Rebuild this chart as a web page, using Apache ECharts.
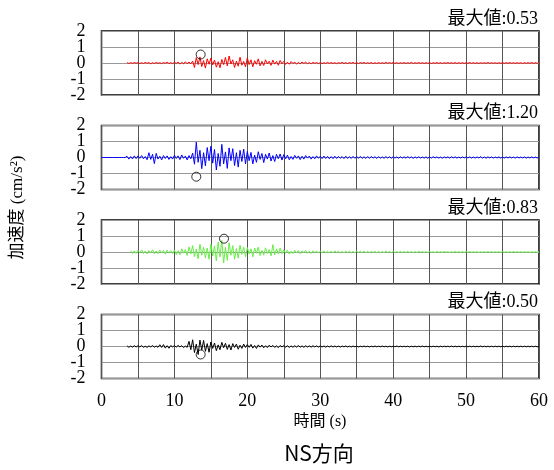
<!DOCTYPE html>
<html>
<head>
<meta charset="utf-8">
<script src="https://cdn.jsdelivr.net/npm/echarts@6/dist/echarts.min.js"></script>
<style>html,body{margin:0;padding:0;background:#fff}#c{width:554px;height:470px}</style>
</head>
<body>
<div id="c"></div>
<script>
// sample interval of the records (s)
const STEP = 0.25;
const N = null;
const redNS = [
N,N,N,N,N,N,N,N,N,N,N,N,N,N,.02,-.03,.02,-.02,.03,-.02,
.03,-.04,.02,-.03,.04,-.02,.03,-.05,.02,-.03,.04,-.03,.02,-.04,.03,-.02,.05,-.03,.02,-.04,
.05,-.03,.06,-.07,.04,-.05,.08,-.04,.06,-.05,.12,-.28,.34,-.1,.38,-.22,.15,-.32,.26,-.08,
.3,-.12,.18,-.26,.08,-.3,.22,-.1,.35,-.18,.44,-.06,.2,-.28,.12,-.2,.36,-.14,.1,-.24,
.32,-.1,.2,-.24,.14,-.08,.26,-.18,.1,-.16,.2,-.06,.12,-.15,.18,-.07,.1,-.14,.16,-.05,
.1,-.09,.05,-.08,.09,-.03,.06,-.07,.04,-.05,.06,-.02,.05,-.04,.03,-.05,.04,-.02,.03,-.04,
.03,-.04,.02,-.03,.04,-.02,.03,-.03,.02,-.04,.03,-.02,.04,-.03,.02,-.03,.03,-.02,.04,-.03,
.02,-.03,.03,-.02,.04,-.03,.02,-.02,.03,-.04,.02,-.03,.03,-.02,.02,-.03,.04,-.02,.03,-.02,
.03,-.02,.02,-.03,.02,-.02,.03,-.03,.02,-.02,.04,-.03,.02,-.02,.03,-.02,.02,-.03,.02,-.02,
.02,-.03,.02,-.02,.03,-.02,.02,-.03,.02,-.02,.03,-.02,.02,-.02,.03,-.03,.02,-.02,.02,-.03,
.02,-.02,.03,-.02,.02,-.02,.02,-.03,.02,-.02,.02,-.02,.03,-.02,.02,-.02,.02,-.03,.02,-.02,
.02,-.02,.02,-.02,.03,-.02,.02,-.02,.02,-.02,.02,-.03,.02,-.02,.02,-.02,.03,-.02,.02,-.02,
.01];
const blueNS = [
0,0,0,0,0,0,0,0,0,0,0,0,0,0,.08,-.1,.06,-.09,.1,-.07,
.1,-.05,.12,-.08,.06,-.14,.3,-.12,.2,-.38,.26,-.1,.08,-.15,.12,-.06,.1,-.12,.05,-.1,
.14,-.06,.1,-.13,.16,-.05,.09,-.15,.12,-.08,.28,-.42,.96,-.3,.45,-.7,.3,-.52,.62,-.2,
.7,-.35,.5,-.78,.25,-.55,.82,-.4,.35,-.68,.6,-.2,.55,-.5,.3,-.6,.45,-.25,.52,-.4,
.38,-.2,.32,-.4,.15,-.3,.36,-.12,.25,-.32,.2,-.1,.28,-.22,.12,-.25,.2,-.08,.22,-.16,
.18,-.08,.15,-.14,.06,-.12,.13,-.05,.1,-.13,.08,-.1,.12,-.04,.09,-.1,.06,-.08,.1,-.05,
.08,-.07,.09,-.06,.07,-.08,.06,-.07,.08,-.06,.07,-.05,.06,-.07,.08,-.06,.05,-.06,.07,-.05,
.06,-.05,.07,-.06,.05,-.06,.06,-.05,.07,-.04,.05,-.06,.06,-.05,.04,-.05,.06,-.04,.05,-.05,
.05,-.04,.04,-.05,.05,-.04,.04,-.04,.05,-.03,.04,-.05,.04,-.04,.05,-.04,.03,-.04,.04,-.05,
.04,-.04,.05,-.03,.04,-.04,.03,-.05,.04,-.03,.04,-.04,.05,-.03,.04,-.04,.03,-.04,.04,-.03,
.04,-.03,.04,-.04,.03,-.04,.04,-.03,.05,-.04,.03,-.04,.04,-.03,.04,-.04,.03,-.03,.04,-.04,
.03,-.04,.04,-.03,.04,-.03,.03,-.04,.04,-.03,.03,-.03,.04,-.04,.03,-.03,.04,-.03,.03,-.03,
.02];
const greenNS = [
N,N,N,N,N,N,N,N,N,N,N,N,N,N,N,N,.08,-.1,.07,-.09,
.1,-.05,.13,-.09,.06,-.12,.1,-.04,.14,-.1,.07,-.11,.12,-.06,.09,-.13,.11,-.05,.08,-.1,
.12,-.16,.08,-.18,.2,-.07,.15,-.22,.32,-.12,.4,-.3,.18,-.42,.48,-.2,.3,-.38,.25,-.45,
.5,-.25,.38,-.55,.62,-.3,.72,-.68,.3,-.52,.58,-.2,.4,-.45,.22,-.38,.42,-.15,.3,-.3,
.28,-.12,.2,-.3,.25,-.08,.3,-.22,.1,-.2,.26,-.1,.15,-.24,.46,-.18,.2,-.12,.24,-.1,
.14,-.08,.12,-.13,.05,-.1,.11,-.06,.09,-.11,.07,-.04,.1,-.08,.05,-.09,.08,-.03,.06,-.07,
.06,-.05,.07,-.06,.05,-.06,.06,-.05,.07,-.04,.05,-.06,.04,-.05,.06,-.04,.05,-.05,.04,-.05,
.05,-.04,.06,-.04,.05,-.05,.04,-.04,.05,-.03,.04,-.05,.04,-.04,.03,-.04,.05,-.03,.04,-.04,
.04,-.03,.03,-.04,.04,-.03,.03,-.03,.04,-.03,.03,-.04,.03,-.03,.04,-.02,.03,-.03,.02,-.03,
.03,-.02,.02,-.03,.03,-.02,.02,-.02,.03,-.02,.02,-.03,.02,-.02,.03,-.02,.02,-.02,.02,-.02,
.02,-.02,.03,-.02,.02,-.02,.02,-.03,.02,-.02,.02,-.02,.03,-.02,.02,-.02,.02,-.02,.02,-.02,
.02,-.02,.02,-.02,.02,-.02,.03,-.02,.02,-.02,.02,-.02,.02,-.02,.02,-.03,.02,-.02,.02,-.02,
.01];
const blackNS = [
N,N,N,N,N,N,N,N,N,N,N,N,N,N,.04,-.05,.03,-.04,.05,-.03,
.05,-.03,.06,-.05,.02,-.06,.04,-.03,.06,-.04,.03,-.05,.11,-.06,.12,-.1,.05,-.11,.06,-.03,
.06,-.04,.07,-.03,.05,-.07,.03,-.05,.32,-.2,.42,-.38,.15,-.5,.4,-.22,.38,-.3,.18,-.36,
.28,-.12,.22,-.26,.1,-.2,.26,-.08,.2,-.18,.12,-.22,.18,-.06,.15,-.17,.08,-.12,.15,-.06,
.12,-.05,.13,-.1,.06,-.12,.1,-.04,.09,-.08,.05,-.07,.08,-.03,.07,-.06,.04,-.07,.06,-.03,
.06,-.05,.05,-.06,.04,-.05,.05,-.04,.06,-.04,.04,-.05,.05,-.04,.04,-.04,.05,-.03,.04,-.04,
.04,-.03,.03,-.04,.03,-.03,.04,-.03,.03,-.03,.03,-.04,.03,-.02,.03,-.03,.02,-.03,.03,-.02,
.02,-.03,.02,-.02,.03,-.02,.02,-.03,.02,-.02,.03,-.02,.02,-.02,.03,-.02,.02,-.03,.02,-.02,
.02,-.02,.03,-.02,.02,-.02,.02,-.02,.02,-.03,.02,-.02,.02,-.02,.02,-.02,.03,-.02,.02,-.02,
.02,-.02,.02,-.02,.02,-.03,.02,-.02,.02,-.02,.02,-.02,.03,-.02,.02,-.02,.02,-.02,.02,-.02,
.02,-.02,.02,-.02,.02,-.02,.02,-.02,.03,-.02,.02,-.02,.02,-.02,.02,-.02,.02,-.02,.02,-.02,
.02,-.02,.02,-.02,.02,-.02,.02,-.02,.02,-.02,.02,-.02,.02,-.02,.02,-.02,.02,-.02,.02,-.02,
.01];
const peakTimes = [13.6, 13.0, 16.8, 13.6];
const peakValues = [0.53, -1.20, 0.83, -0.50];
const maxLabels = ['最大値:0.53', '最大値:1.20', '最大値:0.83', '最大値:0.50'];
const xTicks = [0, 10, 20, 30, 40, 50, 60];
const yTicksEven = [-2, 0, 2];
const yTicksOdd = [-1, 1];
const xName = '時間 (s)';
const yName = '加速度 (cm/s²)';
const titleText = 'NS方向';

const records = [redNS, blueNS, greenNS, blackNS];
const colors = ['#ff0000', '#0000ff', '#66ee44', '#000000'];
const tops = [31, 125.5, 220, 314.5];
const H = 64, L = 101.5, R = 15;
const SERIF = '"Liberation Serif", "Noto Sans CJK JP", serif';
const YMIN = -2, YMAX = 2;

const grids = [], xAxes = [], yAxes = [], series = [], graphics = [];
function yAxisDef(i, labels, showSplit) {
  return {
    type: 'value', gridIndex: i, position: 'left', offset: 0, min: YMIN, max: YMAX, interval: 1,
    axisLine: {show: false}, axisTick: {show: false},
    axisLabel: {margin: 16, color: '#000', fontFamily: SERIF, fontSize: 18,
      customValues: labels, showMinLabel: true, showMaxLabel: true, hideOverlap: false},
    splitLine: {show: showSplit, lineStyle: {color: '#999', width: 1}}
  };
}
records.forEach((rec, i) => {
  grids.push({left: L, right: R, top: tops[i], height: H, show: true, borderColor: '#000', borderWidth: 1.5, backgroundColor: 'transparent'});
  const last = i === records.length - 1;
  xAxes.push({
    type: 'value', gridIndex: i, min: xTicks[0], max: xTicks[xTicks.length - 1], interval: 5,
    axisLine: {show: false}, axisTick: {show: false},
    axisLabel: {show: last, margin: 14, color: '#000', fontFamily: SERIF, fontSize: 18,
      showMinLabel: true, showMaxLabel: true,
      formatter: v => (xTicks.indexOf(v) >= 0 ? String(v) : '')},
    splitLine: {show: true, lineStyle: {color: '#555', width: 1}}
  });
  yAxes.push(yAxisDef(i, yTicksEven, true));
  yAxes.push(yAxisDef(i, yTicksOdd, false));
  series.push({
    type: 'custom', xAxisIndex: i, yAxisIndex: 2 * i, coordinateSystem: 'cartesian2d',
    animation: false, silent: true, clip: true, z: 10,
    data: rec.map((v, k) => [k * STEP, v === null ? 0 : v]),
    renderItem: (params, api) => {
      const k = params.dataIndex;
      if (k >= rec.length - 1 || rec[k] === null || rec[k + 1] === null) return null;
      const p1 = api.coord([k * STEP, rec[k]]);
      const p2 = api.coord([(k + 1) * STEP, rec[k + 1]]);
      return {type: 'line', shape: {x1: p1[0], y1: p1[1], x2: p2[0], y2: p2[1]},
        style: {stroke: colors[i], lineWidth: 1}};
    }
  });
  series.push({
    type: 'scatter', xAxisIndex: i, yAxisIndex: 2 * i, symbol: 'circle', symbolSize: 9,
    itemStyle: {color: 'rgba(0,0,0,0)', borderColor: '#000', borderWidth: 1}, z: 11,
    animation: false, silent: true,
    data: [[peakTimes[i], peakValues[i]]]
  });
  graphics.push({type: 'text', x: 538, y: tops[i] - 12,
    style: {text: maxLabels[i], fill: '#000', font: '18px ' + SERIF, textAlign: 'right', textVerticalAlign: 'middle'}});
});
graphics.push({type: 'text', x: 18, y: 207.5, rotation: Math.PI / 2,
  style: {text: yName, fill: '#000', font: '17px ' + SERIF, textAlign: 'center', textVerticalAlign: 'middle'}});
graphics.push({type: 'text', x: 320, y: 422,
  style: {text: xName, fill: '#000', font: '16px ' + SERIF, textAlign: 'center', textVerticalAlign: 'middle'}});
graphics.push({type: 'text', x: 319, y: 453,
  style: {text: titleText, fill: '#000', font: '21px "Noto Sans CJK JP", "Noto Sans", sans-serif', textAlign: 'center', textVerticalAlign: 'middle'}});

const chart = echarts.init(document.getElementById('c'), null, {renderer: 'canvas'});
chart.setOption({
  animation: false,
  backgroundColor: '#fff',
  grid: grids, xAxis: xAxes, yAxis: yAxes, series: series, graphic: graphics
});
</script>
</body>
</html>
